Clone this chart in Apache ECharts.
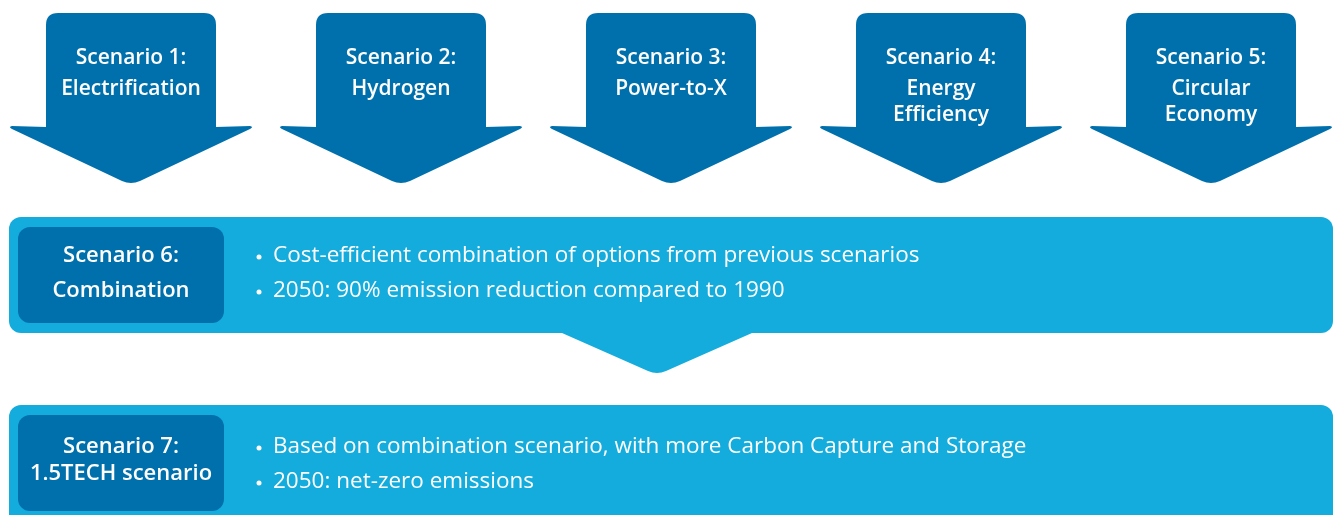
<!DOCTYPE html>
<html>
<head>
<meta charset="utf-8">
<script src="https://cdn.jsdelivr.net/npm/echarts@6/dist/echarts.min.js"></script>
<style>
  html, body { margin: 0; padding: 0; background: #fff; }
  #chart { width: 1335px; height: 515px; }
</style>
</head>
<body>
<div id="chart"></div>
<script>
// 场景数据
var scenarioTitles = ['Scenario 1:', 'Scenario 2:', 'Scenario 3:', 'Scenario 4:', 'Scenario 5:'];
var scenarioNames = [['Electrification'], ['Hydrogen'], ['Power-to-X'], ['Energy', 'Efficiency'], ['Circular', 'Economy']];
var comboTitle = ['Scenario 6:', 'Combination'];
var comboBullets = ['Cost-efficient combination of options from previous scenarios', '2050: 90% emission reduction compared to 1990'];
var techTitle = ['Scenario 7:', '1.5TECH scenario'];
var techBullets = ['Based on combination scenario, with more Carbon Capture and Storage', '2050: net-zero emissions'];

var dark = '#0070ad';
var light = '#14acdc';
var font = '"Open Sans", sans-serif';

var chart = echarts.init(document.getElementById('chart'));

// 顶部箭头
function arrowPath(cx) {
    var l = cx - 85, r = cx + 85;
    return 'M' + l + ',127 L' + l + ',25 Q' + l + ',13 ' + (l + 12) + ',13 L' + (r - 12) + ',13 Q' + r + ',13 ' + r + ',25 L' + r + ',127' +
        ' L' + (cx + 119) + ',126 Q' + (cx + 123) + ',127 ' + (cx + 119) + ',129 L' + (cx + 9) + ',181 Q' + cx + ',185 ' + (cx - 9) + ',181' +
        ' L' + (cx - 119) + ',129 Q' + (cx - 123) + ',127 ' + (cx - 119) + ',126 Z';
}

function txt(x, y, s, weight, size, align) {
    return {
        type: 'text', x: x, y: y,
        style: { text: s, fill: '#fff', font: weight + ' ' + size + 'px ' + font, align: align, verticalAlign: 'middle' }
    };
}

function renderArrow(params, api) {
    var i = params.dataIndex;
    var cx = 131 + i * 270;
    var children = [{ type: 'path', shape: { pathData: arrowPath(cx) }, style: { fill: dark } }];
    var lines = [scenarioTitles[i]].concat(scenarioNames[i]);
    var ys = [58, 89, 115];
    lines.forEach(function (s, k) {
        children.push(txt(cx, ys[k], s, 600, 21, 'center'));
    });
    return { type: 'group', children: children };
}

// 组合场景框
function panel(y, h, title, ty, bullets, by) {
    var children = [
        { type: 'rect', shape: { x: 9, y: y, width: 1324, height: h, r: 12 }, style: { fill: light } },
        { type: 'rect', shape: { x: 18, y: y + 10, width: 206, height: 96, r: 12 }, style: { fill: dark } }
    ];
    title.forEach(function (s, k) {
        children.push(txt(121, ty[k], s, 600, 22, 'center'));
    });
    bullets.forEach(function (s, k) {
        children.push({ type: 'circle', shape: { cx: 259, cy: by[k] + 1, r: 2.5 }, style: { fill: '#fff' } });
        children.push(txt(273, by[k], s, 400, 22.5, 'left'));
    });
    return children;
}

function renderPanels() {
    var children = panel(217, 116, comboTitle, [256, 291], comboBullets, [256, 291]);
    children.push({
        type: 'path',
        shape: { pathData: 'M562,330 L752,330 L752,333 L666,371 Q657,375 648,371 L562,333 Z' },
        style: { fill: light }
    });
    children = children.concat(panel(405, 130, techTitle, [447, 474], techBullets, [447, 482]));
    return { type: 'group', children: children };
}

chart.setOption({
    backgroundColor: '#fff',
    animation: false,
    series: [
        { type: 'custom', coordinateSystem: 'none', renderItem: renderArrow, data: scenarioTitles.map(function (t, i) { return i; }) },
        { type: 'custom', coordinateSystem: 'none', renderItem: renderPanels, data: [0] }
    ]
});
</script>
</body>
</html>
